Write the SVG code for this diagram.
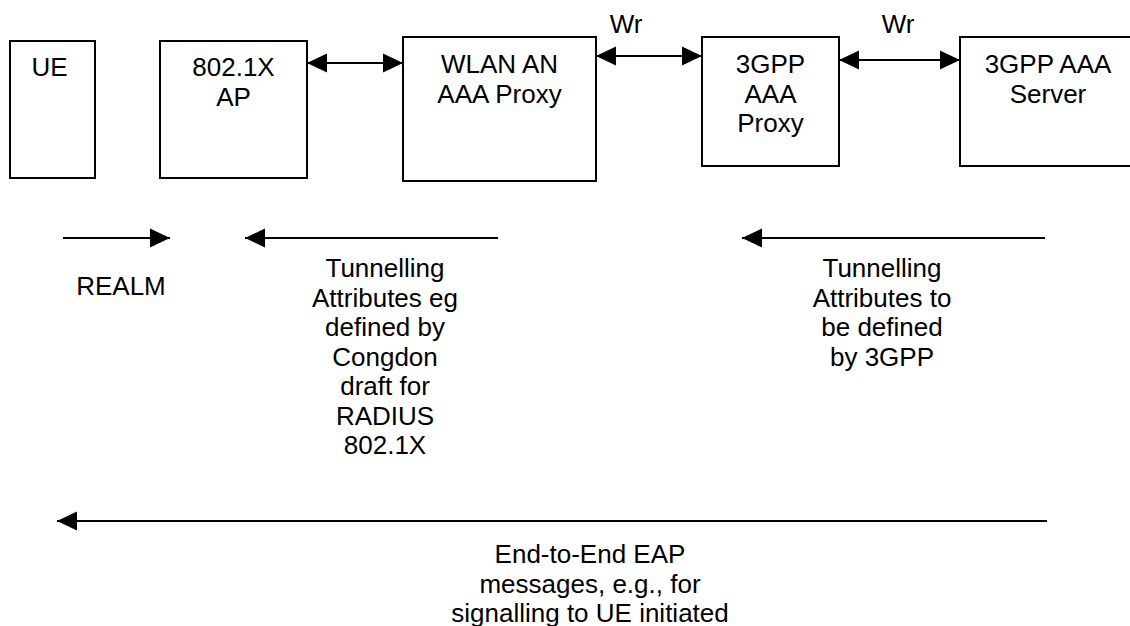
<svg xmlns="http://www.w3.org/2000/svg" width="1130" height="626" viewBox="0 0 1130 626">
<style>
.box{fill:#fff;stroke:#000;stroke-width:2}
.t{font-family:"Liberation Sans",Arial,sans-serif;font-size:26px;fill:#000;text-anchor:middle}
.c{stroke:#000;stroke-width:2;fill:none}
</style>
<defs>
<marker id="ah" viewBox="0 0 20 20" refX="20" refY="10" markerWidth="20" markerHeight="20" markerUnits="userSpaceOnUse" orient="auto-start-reverse">
<path d="M0,0.5 L20,10 L0,19.5 Z" fill="#000"/>
</marker>
</defs>
<rect width="1130" height="626" fill="#fff"/>
<g id="ue">
<rect class="box" x="10" y="41" width="85" height="137"/>
<text class="t" x="49.5" y="76">UE</text>
</g>
<g id="ap">
<rect class="box" x="160" y="41" width="147" height="137"/>
<text class="t" x="233.5" y="76">802.1X</text>
<text class="t" x="233.5" y="106">AP</text>
</g>
<g id="wlan">
<rect class="box" x="403" y="37" width="193" height="144"/>
<text class="t" x="499.5" y="73">WLAN AN</text>
<text class="t" x="499.5" y="102.5">AAA Proxy</text>
</g>
<g id="proxy3gpp">
<rect class="box" x="702" y="37" width="137" height="129"/>
<text class="t" x="770.5" y="73">3GPP</text>
<text class="t" x="770.5" y="102.5">AAA</text>
<text class="t" x="770.5" y="132">Proxy</text>
</g>
<g id="server">
<rect class="box" x="960" y="37" width="180" height="129"/>
<text class="t" x="1048" y="73">3GPP AAA</text>
<text class="t" x="1048" y="102.5">Server</text>
</g>
<g id="connectors">
<line class="c" x1="307" y1="63" x2="403" y2="63" marker-start="url(#ah)" marker-end="url(#ah)"/>
<line class="c" x1="596" y1="56" x2="702" y2="56" marker-start="url(#ah)" marker-end="url(#ah)"/>
<line class="c" x1="839" y1="60" x2="960" y2="60" marker-start="url(#ah)" marker-end="url(#ah)"/>
<line class="c" x1="63" y1="238" x2="170" y2="238" marker-end="url(#ah)"/>
<line class="c" x1="498" y1="238" x2="245" y2="238" marker-end="url(#ah)"/>
<line class="c" x1="1045" y1="238" x2="742" y2="238" marker-end="url(#ah)"/>
<line class="c" x1="1047" y1="521" x2="57" y2="521" marker-end="url(#ah)"/>
</g>
<g id="labels">
<text class="t" x="626" y="33">Wr</text>
<text class="t" x="898" y="33">Wr</text>
<text class="t" x="121" y="295">REALM</text>
<text class="t" x="385" y="277">Tunnelling</text>
<text class="t" x="385" y="306.5">Attributes eg</text>
<text class="t" x="385" y="336">defined by</text>
<text class="t" x="385" y="365.5">Congdon</text>
<text class="t" x="385" y="395">draft for</text>
<text class="t" x="385" y="424.5">RADIUS</text>
<text class="t" x="385" y="454">802.1X</text>
<text class="t" x="882" y="277">Tunnelling</text>
<text class="t" x="882" y="306.5">Attributes to</text>
<text class="t" x="882" y="336">be defined</text>
<text class="t" x="882" y="365.5">by 3GPP</text>
<text class="t" x="590" y="563">End-to-End EAP</text>
<text class="t" x="590" y="593">messages, e.g., for</text>
<text class="t" x="590" y="622">signalling to UE initiated</text>
</g>
</svg>
